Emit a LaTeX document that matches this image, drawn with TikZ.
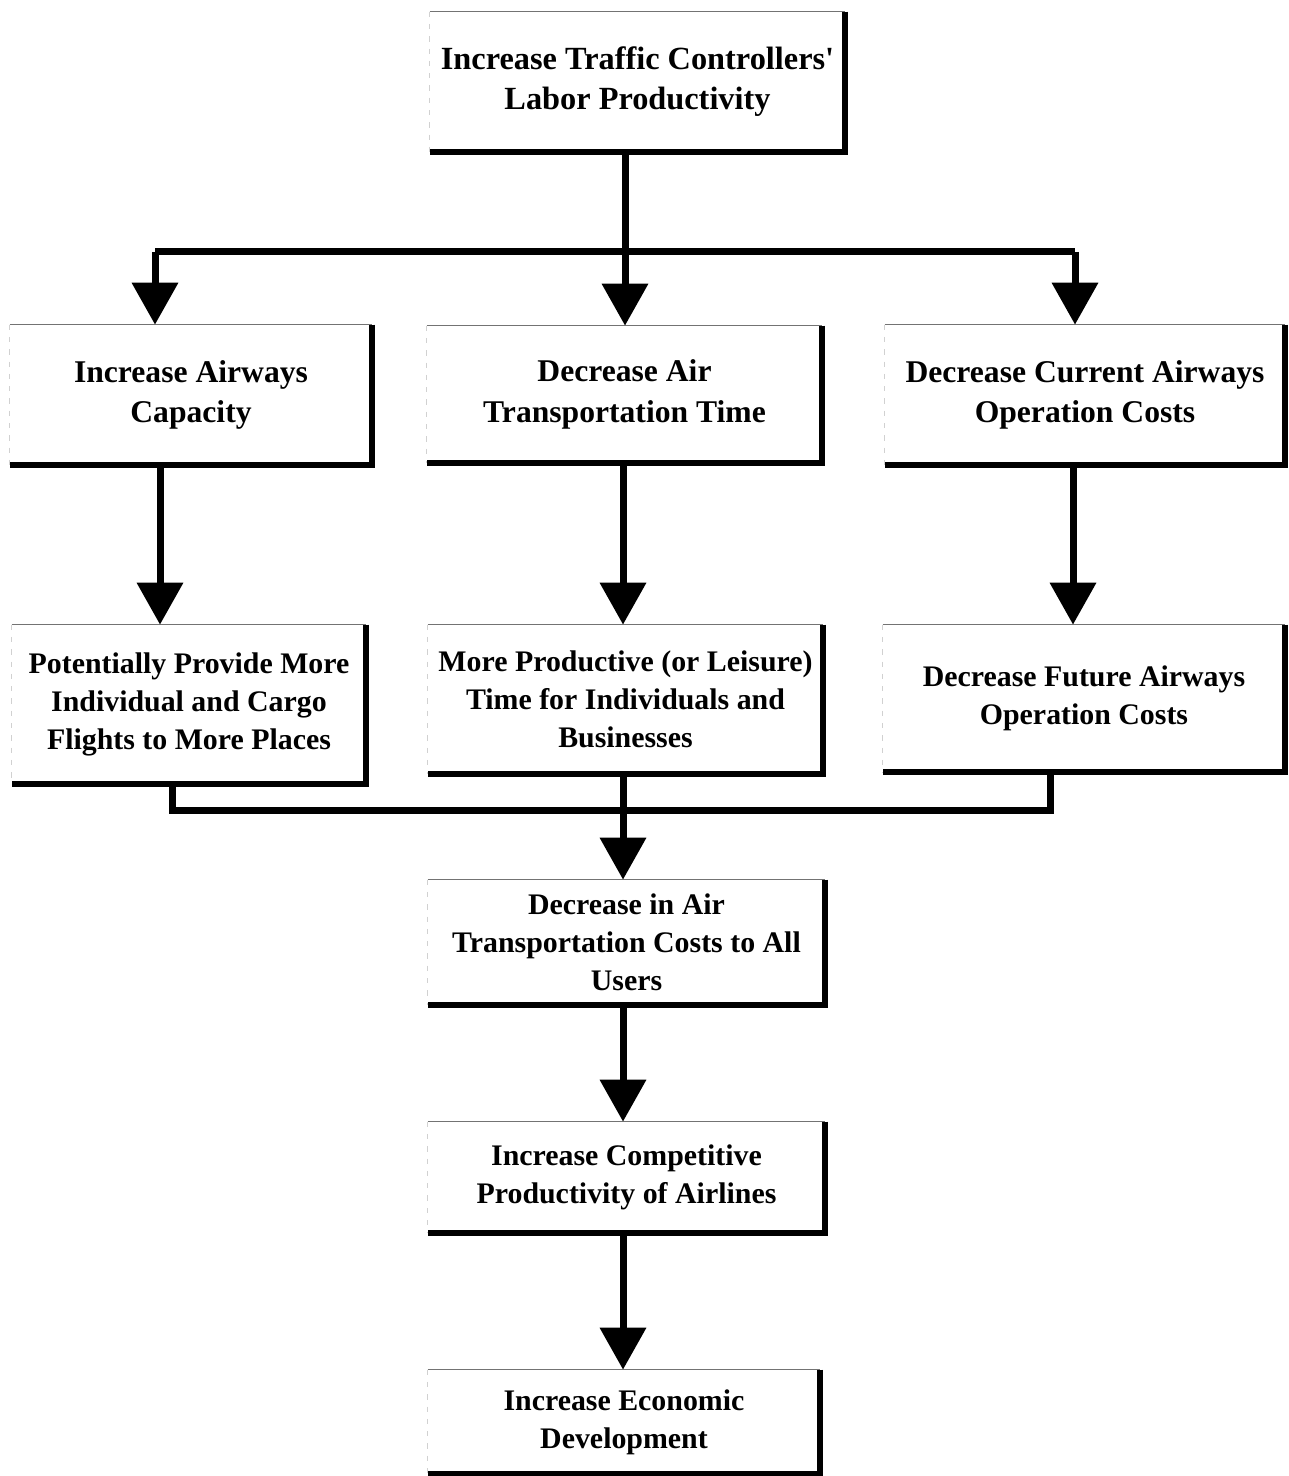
\documentclass[tikz,border=0pt]{standalone}
\usepackage{fontspec}
\setmainfont{Liberation Serif}
\usetikzlibrary{arrows.meta}
\newcommand\flowbox[7][]{%
  \node[box, #1, minimum width={(#5-#3)*0.02cm}, minimum height={(#6-#4)*0.02cm}] (#2) at ({(#3+#5)/2},{(#4+#6)/2}) {#7};
  \draw[leftedge] (#2.north west) -- (#2.south west);
  \draw[topedge] (#2.north west) -- (#2.north east);
  \draw[shadowedge] (#2.north east) -- (#2.south east) -- (#2.south west);
}
\begin{document}
\begin{tikzpicture}[x=0.02cm,y=-0.02cm,
  box/.style={inner sep=0pt, align=center, font=\bfseries\fontsize{17}{21.6}\selectfont},
  bigtext/.style={font=\bfseries\fontsize{18}{23.2}\selectfont},
  toptext/.style={font=\bfseries\fontsize{18.4}{22.8}\selectfont},
  topedge/.style={draw=black!55, line width=0.7pt},
  leftedge/.style={draw=black!18, line width=0.6pt, dash pattern=on 3pt off 4pt},
  shadowedge/.style={line width=0.12cm, line join=miter},
  conn/.style={line width=0.14cm, line join=miter},
  arr/.style={conn, -{Triangle[length=0.84cm,width=0.9cm]}}]
\fill[white] (0,0) rectangle (1288,1476);
\useasboundingbox (0,0) rectangle (1288,1476);

\flowbox[toptext]{top}{430}{12}{845}{152}{Increase Traffic Controllers\textquotesingle\\Labor Productivity}
\flowbox[bigtext]{b1}{10}{325}{372}{465}{Increase Airways\\Capacity}
\flowbox[bigtext]{b2}{427}{326}{822}{463}{Decrease Air\\Transportation Time}
\flowbox[bigtext]{b3}{885}{325}{1285}{465}{Decrease Current Airways\\Operation Costs}
\flowbox{c1}{12}{625}{366}{784}{Potentially Provide More\\Individual and Cargo\\Flights to More Places}
\flowbox{c2}{428}{625}{823}{774}{More Productive (or Leisure)\\Time for Individuals and\\Businesses}
\flowbox{c3}{883}{625}{1285}{772}{Decrease Future Airways\\Operation Costs}
\flowbox{d}{428}{880}{825}{1005}{Decrease in Air\\Transportation Costs to All\\Users}
\flowbox{e}{428}{1122}{825}{1233}{Increase Competitive\\Productivity of Airlines}
\flowbox{f}{428}{1370}{820}{1474}{Increase Economic\\Development}

% top fan-out
\coordinate (jm) at (625,252);
\coordinate (jl) at (155,252);
\coordinate (jr) at (1075,252);
\draw[conn] (top.south -| jm) -- (jm);
\draw[conn] (jl) -- (jr);
\draw[arr] (jl) -- (jl |- b1.north);
\draw[arr] (jm) -- (jm |- b2.north);
\draw[arr] (jr) -- (jr |- b3.north);

% row 2 to row 3
\coordinate (p1) at (160,465);
\coordinate (p2) at (623,463);
\coordinate (p3) at (1073,465);
\draw[arr] (p1) -- (p1 |- c1.north);
\draw[arr] (p2) -- (p2 |- c2.north);
\draw[arr] (p3) -- (p3 |- c3.north);

% merge
\coordinate (ml) at (172,810);
\coordinate (mr) at (1050,810);
\coordinate (mm) at (623,810);
\draw[conn] (c1.south -| ml) -- (ml) -- (mr) -- (c3.south -| mr);
\draw[arr] (c2.south -| mm) -- (mm |- d.north);

% chain
\coordinate (q1) at (623,1005);
\coordinate (q2) at (623,1233);
\draw[arr] (q1) -- (q1 |- e.north);
\draw[arr] (q2) -- (q2 |- f.north);
\end{tikzpicture}
\end{document}
